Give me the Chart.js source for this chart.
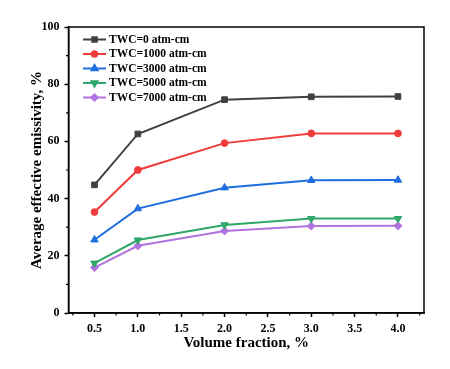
<!DOCTYPE html>
<html>
<head>
<meta charset="utf-8">
<script src="https://cdn.jsdelivr.net/npm/chart.js@4/dist/chart.umd.min.js"></script>
<style>
  html, body { margin: 0; padding: 0; background: #fff; }
  #wrap { width: 450px; height: 369px; }
</style>
</head>
<body>
<div id="wrap"><canvas id="chart" width="450" height="369"></canvas></div>
<script>
// ─── Data ───────────────────────────────────────────────────────────────────
const volumeFraction = [0.5, 1.0, 2.0, 3.0, 4.0];
const seriesLabels = ['TWC=0 atm-cm', 'TWC=1000 atm-cm', 'TWC=3000 atm-cm', 'TWC=5000 atm-cm', 'TWC=7000 atm-cm'];
const twc0    = [44.8, 62.6, 74.6, 75.6, 75.7];
const twc1000 = [35.3, 50.0, 59.4, 62.8, 62.8];
const twc3000 = [25.6, 36.5, 43.8, 46.4, 46.5];
const twc5000 = [17.4, 25.5, 30.8, 33.0, 33.0];
const twc7000 = [15.9, 23.5, 28.7, 30.4, 30.5];
const xTicks = [0.5, 1.0, 1.5, 2.0, 2.5, 3.0, 3.5, 4.0];
const xMinor = [0.25, 0.75, 1.25, 1.75, 2.25, 2.75, 3.25, 3.75, 4.25];
const yTicks = [0, 20, 40, 60, 80, 100];
const yMinor = [10, 30, 50, 70, 90];

const FONT = "'Liberation Serif', 'Times New Roman', serif";

const styles = [
  { color: '#404040', point: 'rect',     rot: 0,   r: 4.0 },
  { color: '#f03c3c', point: 'circle',   rot: 0,   r: 3.4 },
  { color: '#1f6ee0', point: 'triangle', rot: 0,   r: 4.3 },
  { color: '#2fa66a', point: 'triangle', rot: 180, r: 4.3 },
  { color: '#b073e0', point: 'rectRot',  rot: 0,   r: 4.0 },
];
const values = [twc0, twc1000, twc3000, twc5000, twc7000];

const datasets = values.map((vals, i) => ({
  label: seriesLabels[i],
  data: vals.map((v, j) => ({ x: volumeFraction[j], y: v })),
  borderColor: styles[i].color,
  backgroundColor: styles[i].color,
  borderWidth: 2,
  pointStyle: styles[i].point,
  pointRotation: styles[i].rot,
  pointRadius: styles[i].r,
  pointBorderWidth: 1,
  tension: 0,
}));

// ─── Plugins: frame, minor ticks, legend ────────────────────────────────────
const framePlugin = {
  id: 'frame',
  afterDraw(chart) {
    const { ctx, chartArea: a, scales: { x, y } } = chart;
    ctx.save();
    ctx.strokeStyle = '#000';
    ctx.lineWidth = 1.5;
    ctx.strokeRect(a.left, a.top, a.right - a.left, a.bottom - a.top);
    ctx.lineWidth = 1.2;
    ctx.beginPath();
    xMinor.forEach(v => {
      const px = x.getPixelForValue(v);
      ctx.moveTo(px, a.bottom);
      ctx.lineTo(px, a.bottom + 2.5);
    });
    yMinor.forEach(v => {
      const py = y.getPixelForValue(v);
      ctx.moveTo(a.left, py);
      ctx.lineTo(a.left - 2.5, py);
    });
    ctx.stroke();
    ctx.restore();
  }
};

const legendPlugin = {
  id: 'lineLegend',
  afterDraw(chart) {
    const { ctx, chartArea: a } = chart;
    ctx.save();
    ctx.font = "bold 11.5px " + FONT;
    ctx.textBaseline = 'middle';
    chart.data.datasets.forEach((ds, i) => {
      const yy = a.top + 12.5 + i * 14.5;
      const x0 = a.left + 14.5, x1 = a.left + 37.5;
      ctx.strokeStyle = ds.borderColor;
      ctx.lineWidth = 2;
      ctx.beginPath();
      ctx.moveTo(x0, yy);
      ctx.lineTo(x1, yy);
      ctx.stroke();
      ctx.fillStyle = ds.backgroundColor;
      Chart.helpers.drawPoint(ctx, {
        pointStyle: ds.pointStyle, rotation: ds.pointRotation,
        radius: ds.pointRadius * 0.8, borderWidth: 1
      }, (x0 + x1) / 2, yy);
      ctx.fillStyle = '#000';
      ctx.fillText(ds.label, x1 + 3, yy + 0.5);
    });
    ctx.restore();
  }
};

// ─── Chart ──────────────────────────────────────────────────────────────────
new Chart(document.getElementById('chart'), {
  type: 'line',
  data: { datasets },
  plugins: [framePlugin, legendPlugin],
  options: {
    responsive: false,
    animation: false,
    layout: { padding: { left: 0, right: 26, top: 27, bottom: 0 } },
    plugins: { legend: { display: false }, tooltip: { enabled: false } },
    scales: {
      x: {
        type: 'linear', min: 0.2, max: 4.3,
        afterBuildTicks: s => { s.ticks = xTicks.map(v => ({ value: v })); },
        afterFit: s => { s.height = 56; },
        ticks: {
          color: '#000', padding: 5,
          font: { family: FONT, size: 12, weight: 'bold' },
          callback: v => Number(v).toFixed(1),
        },
        grid: { drawOnChartArea: false, drawTicks: true, tickLength: 4, tickColor: '#000', tickWidth: 1.5 },
        border: { display: true, color: '#000', width: 1.5 },
        title: {
          display: true, text: 'Volume fraction, %', color: '#000',
          font: { family: FONT, size: 15, weight: 'bold' },
          padding: { top: 0, bottom: 17 },
        },
      },
      y: {
        type: 'linear', min: 0, max: 100,
        afterBuildTicks: s => { s.ticks = yTicks.map(v => ({ value: v })); },
        afterFit: s => { s.width = 68.5; },
        ticks: {
          color: '#000', padding: 5,
          font: { family: FONT, size: 12, weight: 'bold' },
        },
        grid: { drawOnChartArea: false, drawTicks: true, tickLength: 4, tickColor: '#000', tickWidth: 1.5 },
        border: { display: true, color: '#000', width: 1.5 },
        title: {
          display: true, text: 'Average effective emissivity, %', color: '#000',
          font: { family: FONT, size: 15, weight: 'bold' },
          padding: { top: 28, bottom: 0 },
        },
      },
    },
  },
});
</script>
</body>
</html>
